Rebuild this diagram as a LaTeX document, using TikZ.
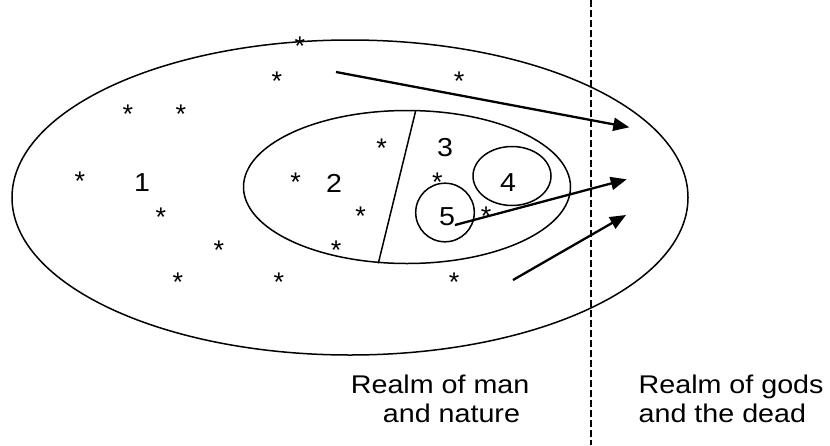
\documentclass[tikz,border=0pt]{standalone}
\usepackage{fontspec}
\setmainfont{Liberation Sans}
\usepackage{graphicx}
\usetikzlibrary{arrows.meta}
\begin{document}
\begin{tikzpicture}[x=1pt,y=-1pt,
  astk/.style={anchor=base,inner sep=0pt,font=\fontsize{27}{30}\selectfont},
  numlbl/.style={anchor=center,inner sep=0pt,font=\fontsize{26}{30}\selectfont},
  realm/.style={anchor=base west,inner sep=0pt,font=\fontsize{25.6}{30}\selectfont},
  bigarrow/.style={line width=2.3pt,-{Triangle[length=16pt,width=13pt]}},
  shape line/.style={line width=1.5pt}]
\useasboundingbox (0,0) rectangle (830,445);
% outer and inner regions
\draw[shape line] (350,197.5) ellipse [x radius=338, y radius=157.5];
\draw[shape line] (407,187) ellipse [x radius=163.5, y radius=76.5];
\coordinate (divtop) at (415.7,110.7);
\coordinate (divbot) at (378.3,263.3);
\draw[shape line] (divtop) -- (divbot);
\draw[shape line] (512,176) ellipse [x radius=39, y radius=29.5];
\draw[shape line] (445,212.5) ellipse [x radius=29.3, y radius=29.3];
% dashed boundary
\coordinate (btop) at (591,0);
\coordinate (bbot) at (591,445);
\draw[line width=1.4pt,dash pattern=on 6.5pt off 3.5pt] (btop) -- (bbot);
% numbers
\node[numlbl] (n1) at (142,183) {\scalebox{1.1}[1]{1}};
\node[numlbl] (n2) at (334,183) {\scalebox{1.1}[1]{2}};
\node[numlbl] (n3) at (445,148) {\scalebox{1.1}[1]{3}};
\node[numlbl] (n4) at (508,183) {\scalebox{1.1}[1]{4}};
\node[numlbl] (n5) at (447,217) {\scalebox{1.1}[1]{5}};
% asterisks
\foreach \x/\y [count=\i] in {300/40, 277/75, 459/75, 128/108, 181/108, 381.7/142,
  80/175, 295.7/176, 437.3/176, 161/211, 360.7/210, 486/210, 219/244, 336/244,
  178/276, 279/276, 454/276}
  \node[astk] (s\i) at (\x,\y+15) {*};
% arrows
\coordinate (a1s) at (336,72);
\coordinate (a1e) at (629.3,127.3);
\coordinate (a2s) at (455,225);
\coordinate (a2e) at (626.7,179.3);
\coordinate (a3s) at (513,280);
\coordinate (a3e) at (626,215);
\draw[bigarrow] (a1s) -- (a1e);
\draw[bigarrow] (a2s) -- (a2e);
\draw[bigarrow] (a3s) -- (a3e);
% realm labels
\node[realm] (rm1) at (350.7,393.3) {\scalebox{1.12}[1]{Realm of man}};
\node[realm] (rm2) at (382.7,422.5) {\scalebox{1.12}[1]{and nature}};
\node[realm] (rg1) at (638.5,393.3) {\scalebox{1.12}[1]{Realm of gods}};
\node[realm] (rg2) at (638.5,422.5) {\scalebox{1.12}[1]{and the dead}};
\end{tikzpicture}
\end{document}
